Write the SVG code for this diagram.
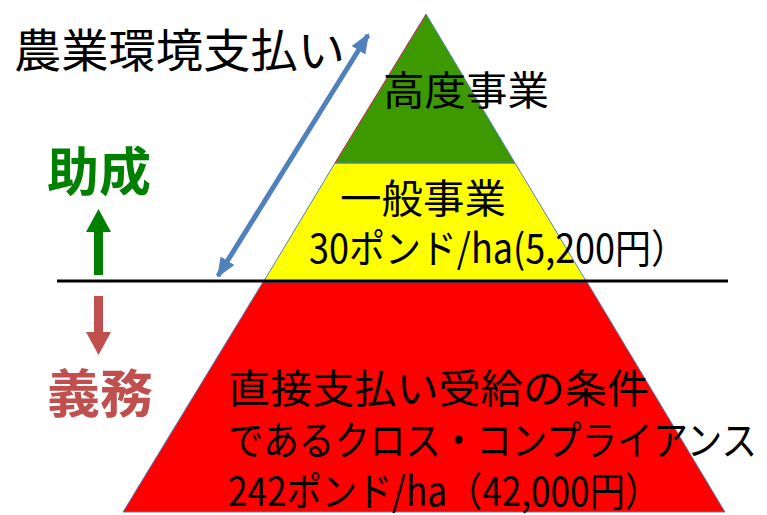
<svg xmlns="http://www.w3.org/2000/svg" width="767" height="515" viewBox="0 0 767 515">
<defs>
<style>
text{font-family:"Noto Sans CJK JP","Noto Sans",sans-serif;}
.band{stroke:#4F81BD;stroke-width:1;}
.lbl{font-size:40px;fill:#000;}
</style>
<marker id="bh" viewBox="0 0 20 16" refX="18" refY="8" markerWidth="20" markerHeight="16" markerUnits="userSpaceOnUse" orient="auto-start-reverse">
<path d="M0,0 L20,8 L0,16 Z" fill="#4F81BD"/>
</marker>
</defs>
<rect width="767" height="515" fill="#fff"/>
<g id="red-band"><polygon class="band" points="263,282 587,282 725,512 123,512" fill="#FF0000"/></g>
<g id="yellow-band"><polygon class="band" points="335,163 515,163 586,281 264,281" fill="#FFFF00"/></g>
<g id="green-band"><polygon class="band" points="426,14 515,163 335,163" fill="#3C9A00"/><line x1="426" y1="15" x2="335" y2="163" stroke="#E03030" stroke-width="1"/></g>
<g id="connectors">
<line x1="57" y1="281" x2="728" y2="281" stroke="#000" stroke-width="3"/>
<line x1="218" y1="276" x2="368" y2="35" stroke="#4F81BD" stroke-width="5" marker-start="url(#bh)" marker-end="url(#bh)"/>
<g id="up-arrow" fill="#008000"><rect x="94" y="228" width="9" height="47"/><polygon points="86,232 98.5,209 111,232"/></g>
<g id="down-arrow" fill="#C0504D"><rect x="94" y="296" width="9" height="38"/><polygon points="86,332 98.5,355 111,332"/></g>
</g>
<g id="title"><text x="14" y="67" font-size="46" textLength="331" lengthAdjust="spacingAndGlyphs">農業環境支払い</text></g>
<g id="josei"><text x="47" y="191" font-size="52" font-weight="bold" fill="#008000" textLength="104" lengthAdjust="spacingAndGlyphs">助成</text></g>
<g id="gimu"><text x="47" y="413" font-size="52" font-weight="bold" fill="#C0504D" textLength="106" lengthAdjust="spacingAndGlyphs">義務</text></g>
<g id="kodo"><text class="lbl" x="383" y="105" textLength="166" lengthAdjust="spacingAndGlyphs">高度事業</text></g>
<g id="ippan"><text class="lbl" x="340" y="213" textLength="166" lengthAdjust="spacingAndGlyphs">一般事業</text>
<text class="lbl" x="309" y="263" textLength="378" lengthAdjust="spacingAndGlyphs">30ポンド/ha(5,200円）</text></g>
<g id="cc"><text class="lbl" x="228" y="403" textLength="421" lengthAdjust="spacingAndGlyphs">直接支払い受給の条件</text>
<text class="lbl" x="228" y="455" textLength="529" lengthAdjust="spacingAndGlyphs">であるクロス・コンプライアンス</text>
<text class="lbl" x="228" y="506" textLength="432" lengthAdjust="spacingAndGlyphs">242ポンド/ha（42,000円）</text></g>
</svg>
